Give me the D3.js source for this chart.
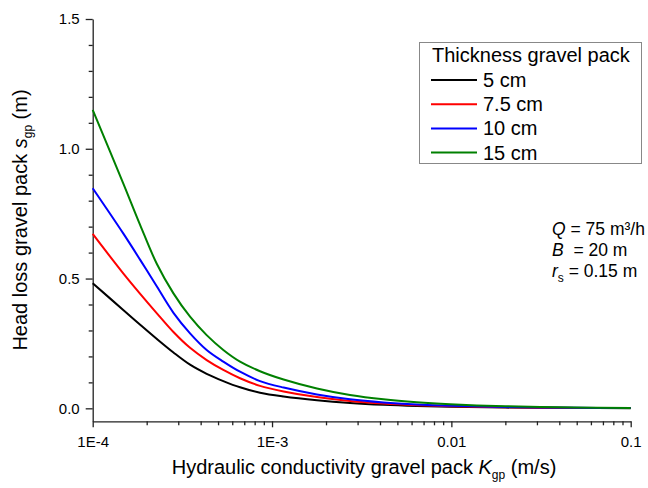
<!DOCTYPE html>
<html>
<head>
<meta charset="utf-8">
<script src="https://cdn.jsdelivr.net/npm/d3@7"></script>
<style>
  body { margin: 0; background: #fff; }
  text { font-family: "Liberation Sans", Arial, sans-serif; fill: #000; white-space: pre; }
</style>
</head>
<body>
<script>

// hydraulic conductivity of the gravel pack (m/s)
const kValues = [1e-4, 1.48e-4, 1.84e-4, 2.28e-4, 2.82e-4, 3.49e-4, 4.32e-4, 5.35e-4, 6.63e-4, 8.57e-4,
                 1.16e-3, 1.78e-3, 2.72e-3, 4.18e-3, 6.41e-3, 9.83e-3, 2e-2, 5e-2, 1e-1];

// head loss (m) per gravel pack thickness
const loss5cm  = [0.482, 0.379, 0.322, 0.267, 0.215, 0.168, 0.133, 0.105, 0.081, 0.060,
                  0.0455, 0.031, 0.0205, 0.0133, 0.0087, 0.0057, 0.0028, 0.0011, 0.0006];
const loss75cm = [0.672, 0.520, 0.441, 0.366, 0.294, 0.233, 0.186, 0.148, 0.116, 0.0865,
                  0.065, 0.0432, 0.0285, 0.0187, 0.0122, 0.0080, 0.0040, 0.0016, 0.0008];
const loss10cm = [0.848, 0.674, 0.572, 0.469, 0.368, 0.289, 0.225, 0.180, 0.141, 0.105,
                  0.080, 0.0535, 0.035, 0.0228, 0.0149, 0.0097, 0.0048, 0.0019, 0.0010];
const loss15cm = [1.150, 0.867, 0.706, 0.556, 0.443, 0.353, 0.282, 0.225, 0.180, 0.143,
                  0.111, 0.0765, 0.0515, 0.0345, 0.0232, 0.0157, 0.0079, 0.0032, 0.0016];

const seriesNames = ['5 cm', '7.5 cm', '10 cm', '15 cm'];
const seriesValues = [loss5cm, loss75cm, loss10cm, loss15cm];
const seriesColors = ['#000000', '#ff0000', '#0000ff', '#008000'];

const xMajorTicks = [1e-4, 1e-3, 1e-2, 1e-1];
const xTickLabels = ['1E-4', '1E-3', '0.01', '0.1'];
const yMajorTicks = [0, 0.5, 1.0, 1.5];

const w = 648;
const h = 488;

const svg = d3.select('body')
    .append('svg')
    .attr('width', w)
    .attr('height', h)

const xScale = d3.scaleLog()
    .domain([1e-4, 0.1])
    .range([92.7, 630.7])

const yScale = d3.scaleLinear()
    .domain([-0.05, 1.5])
    .range([421.3, 19])

// minor ticks: 2..9 in each decade, 0.1 steps on y
let xMinorTicks = []
xMajorTicks.slice(0, -1).forEach(d => {
    for (let m = 2; m <= 9; m++) xMinorTicks.push(d * m)
})
const yMinorTicks = d3.range(0, 16).map(i => i / 10).filter(v => Math.round(v * 10) % 5 !== 0)

const axisColor = '#222'

// x axis
svg.append('g')
    .attr('class', 'minor')
    .attr('transform', 'translate(0,' + yScale(-0.05) + ')')
    .call(d3.axisBottom(xScale).tickValues(xMinorTicks).tickSize(4).tickFormat(''))
    .call(g => g.select('.domain').remove())

svg.append('g')
    .attr('id', 'x-axis')
    .attr('transform', 'translate(0,' + yScale(-0.05) + ')')
    .call(d3.axisBottom(xScale)
        .tickValues(xMajorTicks)
        .tickSizeInner(6)
        .tickSizeOuter(0)
        .tickPadding(9)
        .tickFormat((d, i) => xTickLabels[i]))

// y axis
svg.append('g')
    .attr('class', 'minor')
    .attr('transform', 'translate(' + xScale(1e-4) + ',0)')
    .call(d3.axisLeft(yScale).tickValues(yMinorTicks).tickSize(4).tickFormat(''))
    .call(g => g.select('.domain').remove())

svg.append('g')
    .attr('id', 'y-axis')
    .attr('transform', 'translate(' + xScale(1e-4) + ',0)')
    .call(d3.axisLeft(yScale)
        .tickValues(yMajorTicks)
        .tickSizeInner(7)
        .tickSizeOuter(0)
        .tickPadding(6)
        .tickFormat(d3.format('.1f')))

svg.selectAll('.domain, .tick line')
    .attr('stroke', axisColor)
    .attr('stroke-width', 1.3)

svg.selectAll('.tick text')
    .style('font-size', '15px')
    .style('font-family', '"Liberation Sans", Arial, sans-serif')
    .attr('fill', '#000')

// curves
const line = d3.line()
    .x((d, i) => xScale(kValues[i]))
    .y(d => yScale(d))
    .curve(d3.curveCatmullRom.alpha(0.5))

svg.selectAll('path.series')
    .data(seriesValues)
    .enter()
    .append('path')
    .attr('class', 'series')
    .attr('d', d => line(d))
    .attr('fill', 'none')
    .attr('stroke', (d, i) => seriesColors[i])
    .attr('stroke-width', 2)

// axis titles
const xTitle = svg.append('text')
    .attr('x', 364)
    .attr('y', 474)
    .attr('text-anchor', 'middle')
    .style('font-size', '20px')
xTitle.append('tspan').text('Hydraulic conductivity gravel pack ')
xTitle.append('tspan').style('font-style', 'italic').text('K')
xTitle.append('tspan').attr('dy', 5).style('font-size', '12px').text('gp')
xTitle.append('tspan').attr('dy', -5).text(' (m/s)')

const yTitle = svg.append('text')
    .attr('transform', 'translate(27,220) rotate(-90)')
    .attr('text-anchor', 'middle')
    .style('font-size', '20px')
yTitle.append('tspan').text('Head loss gravel pack ')
yTitle.append('tspan').style('font-style', 'italic').text('s')
yTitle.append('tspan').attr('dy', 5).style('font-size', '12px').text('gp')
yTitle.append('tspan').attr('dy', -5).text(' (m)')

// legend
const legend = svg.append('g')

legend.append('rect')
    .attr('x', 419.5)
    .attr('y', 42.5)
    .attr('width', 222)
    .attr('height', 121)
    .attr('fill', '#fff')
    .attr('stroke', '#888')
    .attr('stroke-width', 1)

legend.append('text')
    .attr('x', 432)
    .attr('y', 62)
    .style('font-size', '20px')
    .text('Thickness gravel pack')

seriesNames.forEach((name, i) => {
    const yy = 80 + i * 24.2
    legend.append('line')
        .attr('x1', 431)
        .attr('x2', 477)
        .attr('y1', yy)
        .attr('y2', yy)
        .attr('stroke', seriesColors[i])
        .attr('stroke-width', 2)
    legend.append('text')
        .attr('x', 483)
        .attr('y', yy + 7)
        .style('font-size', '20px')
        .text(name)
})

// parameters
const note = svg.append('g').style('font-size', '17.5px')

const q = note.append('text').attr('x', 552).attr('y', 235)
q.append('tspan').style('font-style', 'italic').text('Q')
q.append('tspan').text(' = 75 m³/h')

const b = note.append('text').attr('x', 552).attr('y', 256)
b.append('tspan').style('font-style', 'italic').text('B')
b.append('tspan').text('  = 20 m')

const r = note.append('text').attr('x', 552).attr('y', 277)
r.append('tspan').style('font-style', 'italic').text('r')
r.append('tspan').attr('dy', 5).style('font-size', '12px').text('s')
r.append('tspan').attr('dy', -5).text(' = 0.15 m')

</script>
</body>
</html>
